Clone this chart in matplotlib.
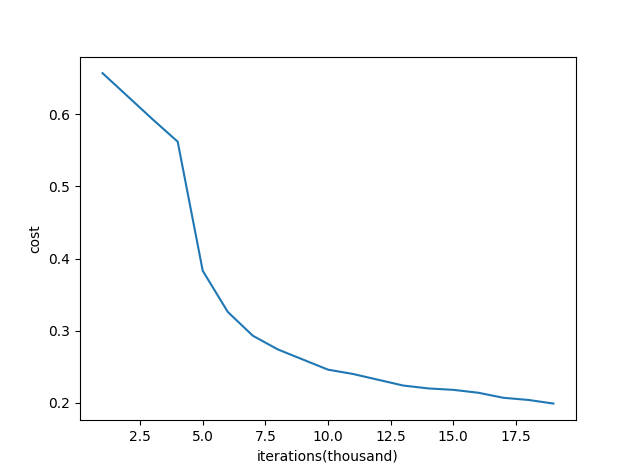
import matplotlib
matplotlib.use('Agg')
import matplotlib.pyplot as plt

iterations = list(range(1, 20))
cost = [0.657, 0.625, 0.593, 0.562, 0.383, 0.326, 0.293, 0.274, 0.260, 0.246,
        0.240, 0.232, 0.224, 0.220, 0.218, 0.214, 0.207, 0.204, 0.199]

fig, ax = plt.subplots(figsize=(6.4, 4.72), dpi=100)
ax.plot(iterations, cost)
ax.set_xlabel('iterations(thousand)')
ax.set_ylabel('cost')
plt.savefig('out.png')
